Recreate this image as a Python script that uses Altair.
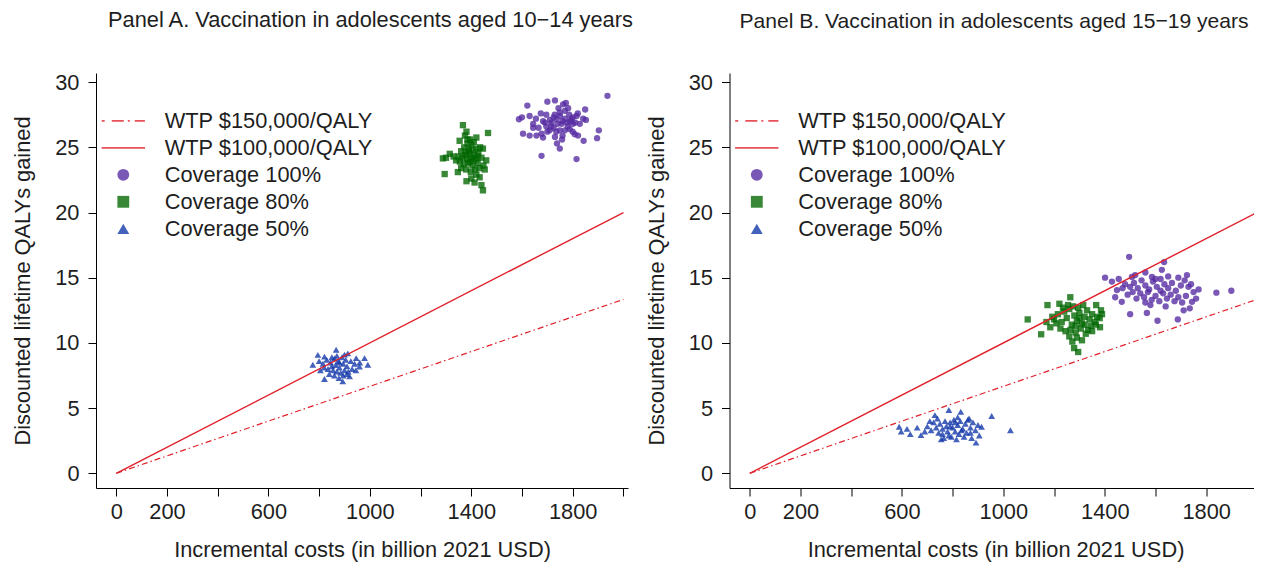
import math
import altair as alt
import pandas as pd

# ---------------- data ----------------
SERIES = ["WTP $150,000/QALY", "WTP $100,000/QALY",
          "Coverage 100%", "Coverage 80%", "Coverage 50%"]

line_cost = [0, 2000]
wtp150_qaly = [0, 13.333]
wtp100_qaly = [0, 20]

x_tick_values = [0, 200, 400, 600, 800, 1000, 1200, 1400, 1600, 1800, 2000]
x_label_values = [0, 200, 600, 1000, 1400, 1800]
y_tick_values = [0, 5, 10, 15, 20, 25, 30]

titles = ["Panel A. Vaccination in adolescents aged 10\u221214 years",
          "Panel B. Vaccination in adolescents aged 15\u221219 years"]

# Panel A  (cost in billion USD, QALYs)
a_cov100 = [(1937, 28.95), (1621, 28.2), (1700, 28.5), (1730, 28.6), (1773, 28.4), (1744, 28.0),
            (1849, 27.9), (1588, 27.15), (1600, 27.3), (1630, 27.4), (1674, 27.6), (1696, 27.5),
            (1769, 27.8), (1786, 27.5), (1815, 27.4), (1841, 27.2), (1852, 27.1), (1644, 26.8),
            (1683, 27.0), (1716, 26.9), (1736, 27.15), (1756, 26.8), (1778, 26.9), (1801, 26.8),
            (1828, 26.8), (1604, 26.05), (1630, 25.9), (1644, 26.5), (1677, 26.05), (1709, 26.3),
            (1725, 26.5), (1749, 26.3), (1769, 26.3), (1788, 26.4), (1808, 26.0), (1821, 25.9),
            (1903, 26.3), (1896, 25.7), (1843, 25.5), (1758, 25.6), (1738, 25.3), (1749, 24.9),
            (1677, 24.35), (1815, 24.1), (1657, 25.9), (1683, 25.75), (1696, 26.6), (1795, 27.15),
            (1729, 27.5), (1749, 27.65), (1782, 28.0), (1762, 28.3), (1710, 27.1), (1725, 27.3),
            (1740, 26.8), (1760, 27.0), (1770, 27.2), (1750, 27.4), (1790, 27.0), (1800, 27.3),
            (1715, 26.6), (1735, 26.2), (1690, 26.9), (1700, 26.2), (1780, 26.6), (1810, 26.9),
            (1820, 27.6), (1655, 27.2), (1665, 26.5), (1760, 25.9), (1730, 25.8), (1800, 26.2)]
a_cov80 = [(1367, 26.7), (1466, 26.1), (1381, 26.2), (1375, 25.9), (1395, 25.6), (1420, 25.75),
           (1354, 25.5), (1385, 25.3), (1400, 25.2), (1410, 25.4), (1372, 25.0), (1390, 24.9),
           (1405, 24.8), (1420, 24.9), (1435, 25.0), (1446, 24.9), (1360, 24.7), (1378, 24.6),
           (1395, 24.5), (1412, 24.4), (1428, 24.6), (1350, 24.3), (1365, 24.2), (1383, 24.1),
           (1400, 24.2), (1418, 24.1), (1440, 24.2), (1288, 24.15), (1300, 24.2), (1315, 24.5),
           (1330, 24.3), (1340, 24.0), (1355, 23.9), (1370, 23.7), (1388, 23.8), (1405, 23.6),
           (1425, 23.8), (1459, 24.0), (1448, 23.6), (1360, 23.4), (1380, 23.3), (1398, 23.1),
           (1415, 23.3), (1432, 23.4), (1453, 23.3), (1295, 22.95), (1347, 23.1), (1420, 22.9),
           (1433, 22.7), (1381, 22.4), (1413, 22.3), (1400, 22.6), (1446, 21.7), (1440, 22.1),
           (1390, 24.7), (1375, 24.4), (1408, 24.0), (1395, 23.9), (1425, 24.3), (1385, 25.6)]
a_cov50 = [(867, 9.47), (795, 9.08), (821, 8.95), (913, 9.2), (946, 8.83), (979, 8.83),
           (992, 8.32), (775, 8.32), (959, 8.19), (821, 7.23), (893, 7.05), (920, 7.43),
           (800, 8.6), (815, 8.4), (830, 8.7), (845, 8.5), (860, 8.8), (875, 8.6), (890, 8.9),
           (905, 8.7), (925, 8.6), (940, 8.4), (850, 8.2), (865, 8.3), (880, 8.1), (895, 8.4),
           (910, 8.2), (930, 8.0), (835, 8.0), (855, 7.9), (870, 7.8), (885, 7.7), (900, 7.9),
           (915, 7.8), (945, 7.9), (840, 7.6), (860, 7.5), (878, 7.3), (895, 7.5), (910, 7.6),
           (805, 7.9), (820, 8.1), (880, 8.5), (960, 8.5), (870, 9.0), (900, 9.1), (850, 8.9)]

# Panel B
b_cov100 = [(1496, 16.6), (1634, 16.2), (1401, 15.0), (1428, 14.7), (1507, 15.06), (1625, 15.6),
            (1586, 15.06), (1724, 15.2), (1770, 14.1), (1840, 13.85), (1899, 14.0), (1448, 14.05),
            (1441, 13.5), (1467, 13.15), (1500, 12.2), (1566, 12.3), (1608, 11.7), (1688, 11.8),
            (1711, 12.5), (1735, 12.65), (1744, 13.15), (1480, 14.5), (1500, 14.3), (1515, 14.6),
            (1530, 14.2), (1545, 14.8), (1560, 14.4), (1575, 14.1), (1590, 14.7), (1605, 14.3),
            (1620, 14.9), (1635, 14.5), (1650, 14.2), (1665, 14.6), (1680, 14.0), (1700, 14.4),
            (1715, 14.8), (1730, 14.3), (1750, 13.9), (1490, 13.7), (1510, 13.9), (1525, 13.4),
            (1540, 13.8), (1555, 13.5), (1570, 13.9), (1585, 13.3), (1600, 13.6), (1615, 13.2),
            (1630, 13.8), (1645, 13.4), (1660, 13.7), (1675, 13.2), (1690, 13.5), (1705, 13.1),
            (1720, 13.6), (1760, 13.4), (1470, 14.2), (1455, 14.9), (1520, 15.2), (1560, 15.4),
            (1600, 14.9), (1650, 15.1), (1690, 15.0), (1740, 14.5), (1580, 12.9), (1640, 12.8),
            (1620, 14.0), (1560, 13.1)]
b_cov80 = [(1096, 11.8), (1149, 10.66), (1174, 12.9), (1221, 13.0), (1264, 13.5), (1295, 9.3),
           (1279, 9.6), (1272, 10.1), (1366, 12.9), (1389, 12.2), (1381, 11.2), (1334, 11.0),
           (1209, 11.5), (1193, 12.0), (1200, 11.8), (1215, 12.2), (1230, 11.6), (1240, 12.4),
           (1250, 11.9), (1260, 12.6), (1270, 11.4), (1280, 12.1), (1290, 11.7), (1300, 12.3),
           (1310, 11.5), (1320, 12.0), (1330, 12.5), (1340, 11.8), (1350, 12.2), (1360, 11.6),
           (1370, 12.0), (1380, 11.9), (1225, 11.1), (1245, 10.9), (1265, 11.0), (1285, 10.8),
           (1305, 11.1), (1325, 10.7), (1345, 11.3), (1255, 12.9), (1275, 12.8), (1295, 12.7),
           (1315, 12.9), (1235, 12.7), (1290, 10.4), (1310, 10.2), (1285, 11.3), (1300, 11.9),
           (1320, 11.4), (1260, 10.5), (1170, 11.6), (1185, 11.2), (1350, 10.9), (1365, 11.4),
           (1385, 12.5)]
b_cov50 = [(589, 3.57), (597, 3.19), (633, 3.0), (675, 2.93), (730, 4.46), (785, 4.85),
           (832, 4.72), (954, 4.39), (1028, 3.3), (892, 2.35), (914, 3.57), (700, 3.6),
           (715, 3.3), (725, 3.9), (735, 3.5), (745, 3.1), (750, 3.8), (760, 3.4), (765, 2.7),
           (770, 4.0), (775, 3.6), (780, 3.2), (790, 3.9), (795, 2.8), (800, 3.5), (805, 4.1),
           (810, 3.2), (815, 2.6), (820, 3.7), (825, 3.0), (830, 4.0), (840, 3.4), (845, 2.8),
           (850, 3.8), (855, 3.1), (860, 4.1), (870, 3.5), (875, 2.7), (880, 3.9), (890, 3.3),
           (900, 3.7), (905, 2.9), (740, 4.2), (755, 2.6), (785, 2.9), (820, 4.3), (865, 4.2),
           (760, 3.0), (790, 3.6), (810, 3.9), (835, 3.3), (870, 3.1), (620, 3.4), (660, 3.5),
           (690, 3.2), (710, 4.0)]

# ---------------- styling ----------------
FONT = "Liberation Sans"
FS = 21.8
TXT = "#1e1e1e"
RED = "#e0202a"
COLORS = [RED, RED, "#5529a0", "#006600", "#0f35a8"]
POINT_SIZES = [40, 40, 46]

SYM = 140.0
U = math.sqrt(SYM) / 2.0  # legend path unit in px


def bar_path(segments, thick=1.7):
    h = thick / 2.0 / U
    parts = []
    for a, b in segments:
        parts.append("M%.3f,%.3fH%.3fV%.3fH%.3fZ" % (a / U, -h, b / U, h, a / U))
    return " ".join(parts)


DASHDOT_PATH = bar_path([(-21.6, -18.6), (-11.5, 0.5), (4.5, 6.5), (11.5, 21.6)])
SOLID_PATH = bar_path([(-21.7, 21.7)])
SHAPES = [DASHDOT_PATH, SOLID_PATH, "circle", "square", "triangle-up"]


def points_df(pairs, name):
    return pd.DataFrame({"cost": [p[0] for p in pairs],
                         "qaly": [p[1] for p in pairs],
                         "series": name})


lab_list = ",".join(str(v) for v in x_label_values)


def panel(title, groups, title_fs, title_dx):
    x = alt.X("cost:Q",
              scale=alt.Scale(domain=[-80, 2018], nice=False, zero=False),
              axis=alt.Axis(values=x_tick_values, format="d",
                            labelExpr="indexof([%s], datum.value) >= 0 ? datum.label : ''" % lab_list,
                            title="Incremental costs (in billion 2021 USD)",
                            labelOverlap=False, labelFlush=False, labelBound=False,
                            tickSize=8, labelPadding=5, titlePadding=16.5))
    y = alt.Y("qaly:Q",
              scale=alt.Scale(domain=[-1.13, 30.7], nice=False, zero=False),
              axis=alt.Axis(values=y_tick_values, title="Discounted lifetime QALYs gained",
                            labelAngle=0, tickSize=8, labelPadding=9, titlePadding=20,
                            labelOverlap=False, labelFlush=False))

    legend = alt.Legend(title=None, orient="none", legendX=16.4, legendY=36.9,
                        symbolSize=SYM, symbolStrokeWidth=0, labelOffset=30.5,
                        rowPadding=4.0, padding=0, labelFontSize=FS, labelFont=FONT,
                        labelColor=TXT, labelLimit=400)
    color = alt.Color("series:N", scale=alt.Scale(domain=SERIES, range=COLORS), legend=legend)
    shape = alt.Shape("series:N", scale=alt.Scale(domain=SERIES, range=SHAPES), legend=legend)

    layers = []
    for g, name, sz in zip(groups, SERIES[2:], POINT_SIZES):
        layers.append(
            alt.Chart(points_df(g, name)).mark_point(filled=True, opacity=0.78, size=sz)
            .encode(x=x, y=y, color=color, shape=shape)
        )
    l150 = pd.DataFrame({"cost": line_cost, "qaly": wtp150_qaly})
    l100 = pd.DataFrame({"cost": line_cost, "qaly": wtp100_qaly})
    layers.append(alt.Chart(l150).mark_line(color=RED, strokeWidth=1.2,
                                            strokeDash=[6, 3, 1.5, 3]).encode(x=x, y=y))
    layers.append(alt.Chart(l100).mark_line(color=RED, strokeWidth=1.4).encode(x=x, y=y))

    return alt.layer(*layers).properties(
        width=532, height=415,
        title=alt.TitleParams(text=title, anchor="start", frame="group", dx=title_dx, offset=40,
                              fontSize=title_fs, font=FONT, fontWeight="normal", color=TXT),
    )


pA = panel(titles[0], [a_cov100, a_cov80, a_cov50], FS, 12)
pB = panel(titles[1], [b_cov100, b_cov80, b_cov50], 21.1, 10)

chart = alt.hconcat(pA, pB, spacing=10.5).resolve_scale(
    color="independent", shape="independent"
).properties(
    padding={"left": 4, "top": 2, "right": -8.5, "bottom": 0.5}
).configure_view(stroke=None).configure_axis(
    grid=False, domainColor="black", domainWidth=1, tickColor="black", tickWidth=1,
    labelFont=FONT, labelFontSize=FS, labelColor=TXT,
    titleFont=FONT, titleFontSize=FS, titleFontWeight="normal", titleColor=TXT,
)

chart.save("out.html", embed_options={"renderer": "svg", "actions": False})
